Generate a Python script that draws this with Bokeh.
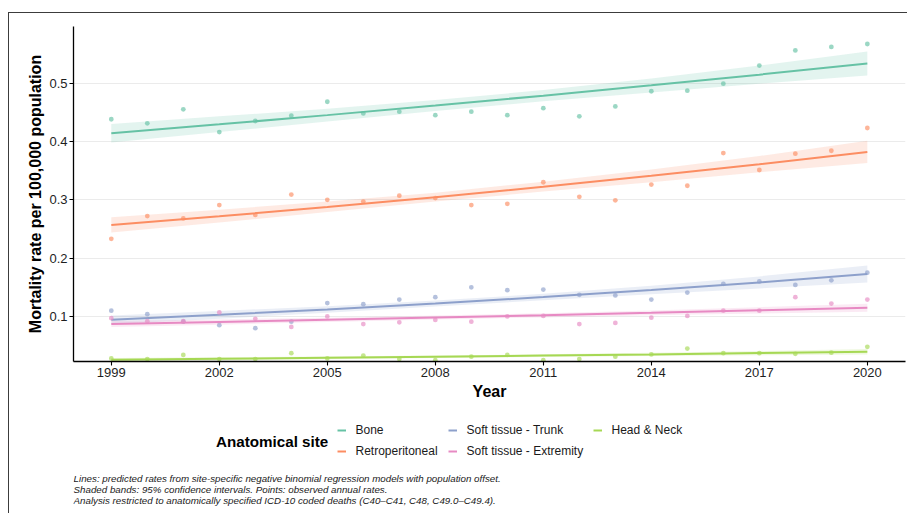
from bokeh.plotting import figure
from bokeh.models import Range1d, FixedTicker, Legend, LegendItem
from bokeh.layouts import column
from bokeh.core.properties import value
from bokeh.embed import file_html
from bokeh.resources import INLINE

# ---------------- data ----------------
years = list(range(1999, 2021))
sites = ["Bone", "Retroperitoneal", "Soft tissue - Trunk", "Soft tissue - Extremity", "Head & Neck"]
colors = ["#66C2A5", "#FC8D62", "#8DA0CB", "#E78AC3", "#A6D854"]

obs_bone = [0.438, 0.431, 0.455, 0.416, 0.435, 0.444, 0.468, 0.448, 0.451, 0.445, 0.451,
            0.445, 0.457, 0.443, 0.460, 0.486, 0.487, 0.499, 0.530, 0.556, 0.562, 0.567]
obs_retro = [0.233, 0.272, 0.268, 0.291, 0.274, 0.309, 0.300, 0.297, 0.307, 0.303, 0.291,
             0.293, 0.330, 0.305, 0.299, 0.326, 0.324, 0.380, 0.351, 0.379, 0.384, 0.423]
obs_trunk = [0.110, 0.104, 0.091, 0.085, 0.080, 0.091, 0.123, 0.121, 0.129, 0.133, 0.150,
             0.145, 0.146, 0.137, 0.136, 0.129, 0.141, 0.156, 0.160, 0.154, 0.162, 0.175]
obs_extr = [0.097, 0.092, 0.092, 0.107, 0.096, 0.082, 0.100, 0.087, 0.090, 0.094, 0.091,
            0.100, 0.101, 0.087, 0.089, 0.098, 0.101, 0.110, 0.110, 0.133, 0.122, 0.129]
obs_hn = [0.028, 0.027, 0.034, 0.027, 0.027, 0.037, 0.028, 0.033, 0.027, 0.025, 0.031,
          0.034, 0.025, 0.027, 0.031, 0.035, 0.045, 0.037, 0.037, 0.036, 0.038, 0.048]

fit_years = [1999, 2002, 2005, 2008, 2011, 2014, 2017, 2020]
fit_bone = [0.414, 0.4293, 0.4451, 0.4615, 0.4785, 0.4962, 0.5145, 0.5334]
lo_bone = [0.398, 0.416, 0.434, 0.452, 0.469, 0.484, 0.499, 0.513]
hi_bone = [0.430, 0.443, 0.456, 0.471, 0.488, 0.508, 0.530, 0.554]
fit_retro = [0.2567, 0.2717, 0.2876, 0.3044, 0.3222, 0.3410, 0.3609, 0.382]
lo_retro = [0.244, 0.261, 0.279, 0.297, 0.314, 0.330, 0.347, 0.363]
hi_retro = [0.270, 0.283, 0.297, 0.312, 0.331, 0.352, 0.375, 0.401]
fit_trunk = [0.0943, 0.1028, 0.1121, 0.1222, 0.1333, 0.1453, 0.1584, 0.1727]
lo_trunk = [0.0868, 0.0961, 0.1065, 0.1172, 0.1278, 0.1380, 0.1481, 0.1580]
hi_trunk = [0.1018, 0.1095, 0.1177, 0.1272, 0.1388, 0.1526, 0.1687, 0.1874]
fit_extr = [0.087, 0.0905, 0.0942, 0.0981, 0.1020, 0.1062, 0.1105, 0.115]
lo_extr = [0.0818, 0.0860, 0.0904, 0.0947, 0.0984, 0.1020, 0.1050, 0.1081]
hi_extr = [0.0922, 0.0950, 0.0980, 0.1015, 0.1056, 0.1104, 0.1160, 0.1219]
fit_hn = [0.0257, 0.0273, 0.0291, 0.0309, 0.0329, 0.0349, 0.0372, 0.0395]
lo_hn = [0.0226, 0.0246, 0.0268, 0.0287, 0.0306, 0.0321, 0.0335, 0.0348]
hi_hn = [0.0288, 0.0300, 0.0314, 0.0331, 0.0352, 0.0377, 0.0409, 0.0442]

x_ticks = [1999, 2002, 2005, 2008, 2011, 2014, 2017, 2020]
y_ticks = [0.1, 0.2, 0.3, 0.4, 0.5]

legend_title = "Anatomical site"
caption_lines = [
    "Lines: predicted rates from site-specific negative binomial regression models with population offset.",
    "Shaded bands: 95% confidence intervals. Points: observed annual rates.",
    "Analysis restricted to anatomically specified ICD-10 coded deaths (C40\u2013C41, C48, C49.0\u2013C49.4).",
]

observed = [obs_bone, obs_retro, obs_trunk, obs_extr, obs_hn]
fits = [fit_bone, fit_retro, fit_trunk, fit_extr, fit_hn]
lows = [lo_bone, lo_retro, lo_trunk, lo_extr, lo_hn]
highs = [hi_bone, hi_retro, hi_trunk, hi_extr, hi_hn]

FONT = "Liberation Sans"

# ---------------- main figure ----------------
p = figure(width=898, height=392, output_backend="svg", toolbar_location=None,
           x_range=Range1d(1997.95, 2021.06), y_range=Range1d(0.0228, 0.597),
           min_border_left=64, min_border_right=2, min_border_top=13, min_border_bottom=44)
p.outline_line_color = None
p.xgrid.visible = False
p.ygrid.grid_line_color = "#EBEBEB"
p.ygrid.grid_line_width = 1

p.xaxis.ticker = FixedTicker(ticks=x_ticks)
p.yaxis.ticker = FixedTicker(ticks=y_ticks)
p.xaxis.axis_label = "Year"
p.yaxis.axis_label = "Mortality rate per 100,000 population"
for ax in (p.xaxis[0], p.yaxis[0]):
    ax.axis_line_color = "black"
    ax.axis_line_width = 1.3
    ax.major_tick_line_color = "black"
    ax.major_tick_line_width = 1.1
    ax.major_tick_out = 4
    ax.major_tick_in = 0
    ax.minor_tick_line_color = None
    ax.major_label_text_font = FONT
    ax.major_label_text_font_size = "13px"
    ax.major_label_text_color = "#1e1e1e"
    ax.axis_label_text_font = FONT
    ax.axis_label_text_font_size = "16px"
    ax.axis_label_text_font_style = "bold"
    ax.axis_label_text_color = "black"
p.xaxis[0].major_label_standoff = 2
p.xaxis[0].axis_label_standoff = 3
p.yaxis[0].major_label_standoff = 2
p.yaxis[0].axis_label_standoff = 2

for col, obs, fit, lo, hi in zip(colors, observed, fits, lows, highs):
    p.varea(x=fit_years, y1=lo, y2=hi, fill_color=col, fill_alpha=0.18)
    p.line(fit_years, fit, line_color=col, line_width=2)
    p.scatter(years, obs, size=4.8, fill_color=col, fill_alpha=0.65, line_color=None)

# ---------------- legend + caption panel ----------------
# (its frame is aligned with the main frame by the column layout; x in page pixels)
H2 = 108
q = figure(width=898, height=H2, output_backend="svg", toolbar_location=None,
           x_range=Range1d(73.5, 905.5), y_range=Range1d(H2, 0),
           min_border=0, min_border_left=0, min_border_right=0,
           min_border_top=0, min_border_bottom=0)
q.axis.visible = False
q.grid.visible = False
q.outline_line_color = None

# key renderers: the fitted lines re-drawn off-canvas here, only to feed legend keys
key_renderers = [q.line(x=fit_years, y=fit, line_color=c, line_width=2)
                 for c, fit in zip(colors, fits)]

def make_legend(idxs, loc):
    items = [LegendItem(label=sites[i], renderers=[key_renderers[i]]) for i in idxs]
    return Legend(items=items, location=loc, orientation="vertical",
                  glyph_width=9, glyph_height=16, label_height=16, label_standoff=10,
                  spacing=5, padding=0, margin=0, border_line_color=None,
                  background_fill_alpha=0, label_text_font=FONT,
                  label_text_font_size="12px", label_text_color="#1a1a1a")

q.add_layout(make_legend([0, 1], (263.5, 53.8)))
q.add_layout(make_legend([2, 3], (374.5, 53.8)))
q.add_layout(make_legend([4], (519.5, 74.8)))

q.text(x=[216], y=[36.2], text=[legend_title], text_font=value(FONT),
       text_font_size="15.2px", text_font_style="bold", text_color="black",
       text_align="left", text_baseline="middle")

q.text(x=[73.6, 73.6, 73.6], y=[72.8, 83.8, 94.8], text=caption_lines,
       text_font=value(FONT), text_font_size="9.75px", text_font_style="italic",
       text_color="#1a1a1a", text_align="left", text_baseline="middle")

layout = column(p, q, spacing=0)
layout.styles = {"border-top": "1.5px solid #3c3c3c", "border-left": "1.5px solid #3c3c3c",
                 "margin-top": "12px", "margin-left": "8px"}

open("out.html", "w").write(file_html(layout, INLINE))
